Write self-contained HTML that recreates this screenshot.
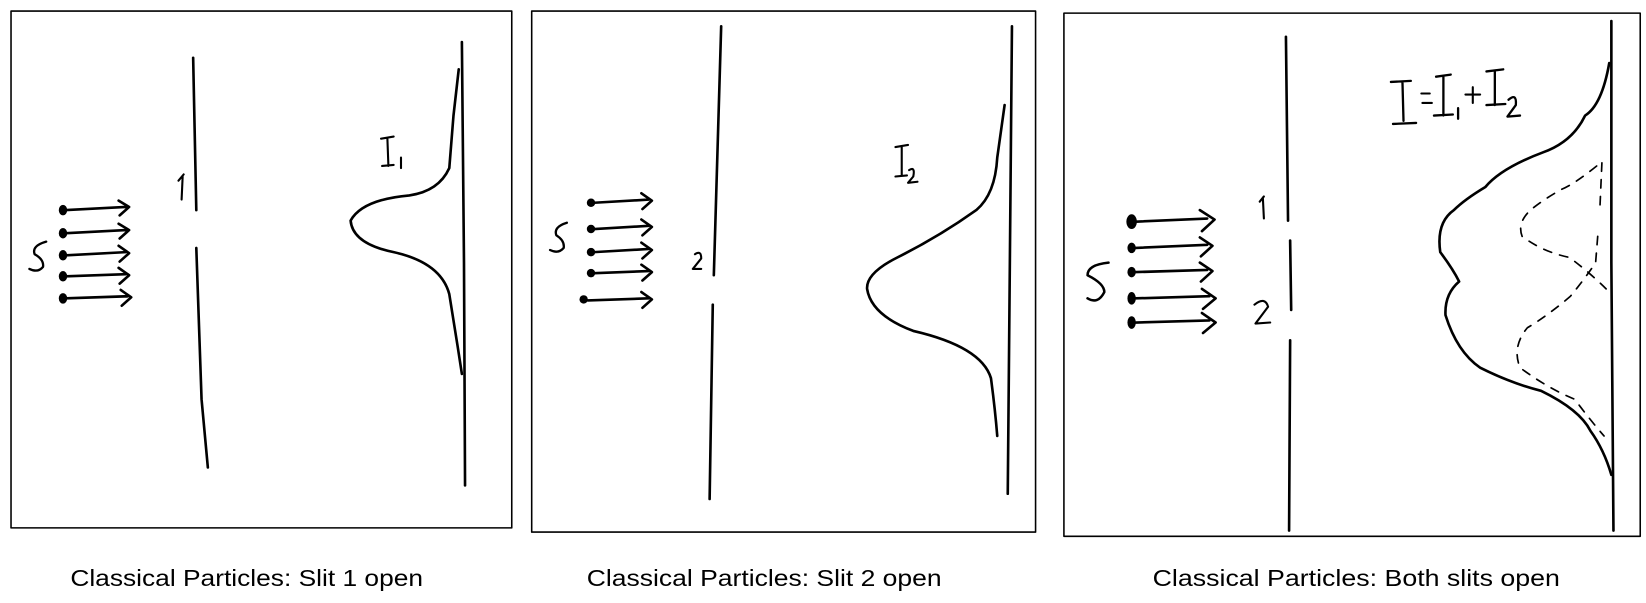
<!DOCTYPE html>
<html><head><meta charset="utf-8"><style>
html,body{margin:0;padding:0;background:#fff;}
svg{display:block;}
</style></head><body>
<svg width="1646" height="603" viewBox="0 0 1568 574" preserveAspectRatio="none" xmlns="http://www.w3.org/2000/svg">
<g fill="none" stroke="#000" stroke-linecap="round" stroke-linejoin="round">
<rect x="10.5" y="10.5" width="477" height="492" stroke-width="1.5"/>
<rect x="506.5" y="10.5" width="480" height="496" stroke-width="1.5"/>
<rect x="1013.5" y="12.5" width="549" height="498" stroke-width="1.5"/>

<!-- Panel 1 -->
<path d="M184 55 L187 200 M187 236 L192 380 L198 445" stroke-width="2.5"/>
<path d="M440 40 L442 250 L443 462" stroke-width="2.5"/>
<path d="M437 66 L432 110 L428 160 Q418 182 390 186 Q345 190 334 210 Q336 232 375 240 Q420 250 428 280 L436 330 L440 356" stroke-width="2.5"/>
<g stroke-width="2.5">
<path d="M63 200 L120 197 M113 191 L123 197 L114 205"/>
<path d="M63 222 L120 219 M113 213 L123 219 L114 227"/>
<path d="M63 243 L120 240 M113 234 L123 241 L114 249"/>
<path d="M63 263 L120 261 M113 255 L123 262 L114 270"/>
<path d="M63 284 L122 282 M115 276 L125 283 L116 291"/>
</g>
<g fill="#000" stroke="none">
<ellipse cx="60" cy="200" rx="4" ry="5"/><ellipse cx="60" cy="222" rx="4" ry="5"/><ellipse cx="60" cy="243" rx="4" ry="5"/><ellipse cx="60" cy="263" rx="4" ry="5"/><ellipse cx="60" cy="284" rx="4" ry="5"/>
</g>
<path d="M44 230 Q30 234 33 242 Q42 247 41 254 Q36 260 28 256" stroke-width="2.2"/>
<path d="M174 168 L173 190 M170 172 L175 166" stroke-width="2"/>
<path d="M363 132 L375 130 M369 131 L370 158 M364 158 L375 157 M382 150 L382 160" stroke-width="2"/>

<!-- Panel 2 -->
<path d="M687 25 L680 262 M679 290 L676 475" stroke-width="2.5"/>
<path d="M964 25 L962 250 L960 470" stroke-width="2.5"/>
<path d="M957 100 L950 150 Q948 185 930 200 Q895 225 855 245 Q825 260 826 275 Q830 300 870 315 Q935 330 944 360 Q948 390 950 415" stroke-width="2.5"/>
<g stroke-width="2.5">
<path d="M566 193 L618 190 M611 184 L621 191 L612 199"/>
<path d="M566 218 L618 215 M611 209 L621 216 L612 224"/>
<path d="M566 240 L618 237 M611 231 L621 238 L612 246"/>
<path d="M566 260 L618 258 M611 252 L621 259 L612 267"/>
<path d="M560 286 L618 284 M611 278 L621 285 L612 293"/>
</g>
<g fill="#000" stroke="none">
<ellipse cx="563" cy="193" rx="4" ry="4"/><ellipse cx="563" cy="218" rx="4" ry="4"/><ellipse cx="563" cy="240" rx="4" ry="4"/><ellipse cx="563" cy="260" rx="4" ry="4"/><ellipse cx="556" cy="285" rx="4" ry="4"/>
</g>
<path d="M540 212 Q527 216 530 224 Q538 229 537 236 Q532 242 524 238" stroke-width="2.2"/>
<path d="M662 242 Q668 238 668 246 L660 256 L668 256" stroke-width="2"/>
<path d="M853 140 L865 138 M859 139 L859 167 M853 168 L864 167 M866 162 Q872 158 870 168 L865 174 L874 173" stroke-width="2"/>

<!-- Panel 3 -->
<path d="M1225 35 L1227 210 M1229 229 L1230 295 M1229 324 L1228 505" stroke-width="2.5"/>
<path d="M1535 20 L1535 250 L1537 505" stroke-width="2.5"/>
<path d="M1533 60 Q1526 100 1510 110 Q1498 135 1470 145 Q1430 160 1415 178 Q1395 190 1385 200 Q1368 212 1372 240 Q1384 256 1390 268 Q1376 280 1377 300 Q1388 335 1410 350 Q1440 365 1468 372 Q1505 390 1515 410 Q1528 428 1535 452" stroke-width="2.5"/>
<path d="M1521 158 Q1500 175 1488 180 Q1470 190 1458 200 Q1445 212 1450 225 Q1470 240 1495 245 Q1515 260 1530 275" stroke-width="1.6" stroke-dasharray="8 8"/>
<path d="M1526 155 L1524 200 M1522 225 L1520 250 Q1510 265 1496 282 Q1475 300 1455 312 Q1440 330 1448 350 Q1475 370 1500 380 Q1515 400 1528 415" stroke-width="1.6" stroke-dasharray="8 8"/>
<g stroke-width="2.5">
<path d="M1082 211 L1150 208 M1143 200 L1157 209 L1145 220"/>
<path d="M1082 236 L1150 233 M1143 226 L1155 234 L1144 244"/>
<path d="M1082 259 L1150 257 M1143 250 L1155 258 L1144 268"/>
<path d="M1082 284 L1152 282 M1145 275 L1158 284 L1146 294"/>
<path d="M1082 307 L1152 305 M1145 298 L1158 307 L1146 317"/>
</g>
<g fill="#000" stroke="none">
<ellipse cx="1078" cy="211" rx="5" ry="7"/><ellipse cx="1078" cy="236" rx="4" ry="5"/><ellipse cx="1078" cy="259" rx="4" ry="5"/><ellipse cx="1078" cy="284" rx="4" ry="6"/><ellipse cx="1078" cy="307" rx="4" ry="6"/>
</g>
<path d="M1056 250 Q1036 252 1036 262 Q1052 270 1052 278 Q1046 290 1036 284" stroke-width="2.4"/>
<path d="M1203 188 L1204 208 M1200 192 L1204 187" stroke-width="2"/>
<path d="M1195 290 Q1205 282 1208 292 L1196 308 L1210 307" stroke-width="2"/>
<path d="M1325 78 L1344 77 M1336 78 L1337 115 M1327 118 L1349 117" stroke-width="2.2"/>
<path d="M1354 89 L1362 89 M1355 98 L1364 98" stroke-width="2"/>
<path d="M1368 73 L1382 71 M1375 72 L1375 110 M1366 110 L1384 109 M1389 103 L1389 113" stroke-width="2.2"/>
<path d="M1396 90 L1410 90 M1403 83 L1403 98" stroke-width="2"/>
<path d="M1416 68 L1432 66 M1424 67 L1424 100 M1416 100 L1434 99 M1437 95 Q1445 88 1444 100 L1436 111 L1448 110" stroke-width="2.2"/>
</g>
<g font-family="Liberation Sans, sans-serif" font-size="22" fill="#000">
<text x="67" y="558" textLength="336" lengthAdjust="spacingAndGlyphs">Classical Particles: Slit 1 open</text>
<text x="559" y="558" textLength="338" lengthAdjust="spacingAndGlyphs">Classical Particles: Slit 2 open</text>
<text x="1098" y="558" textLength="388" lengthAdjust="spacingAndGlyphs">Classical Particles: Both slits open</text>
</g>
</svg>
</body></html>
